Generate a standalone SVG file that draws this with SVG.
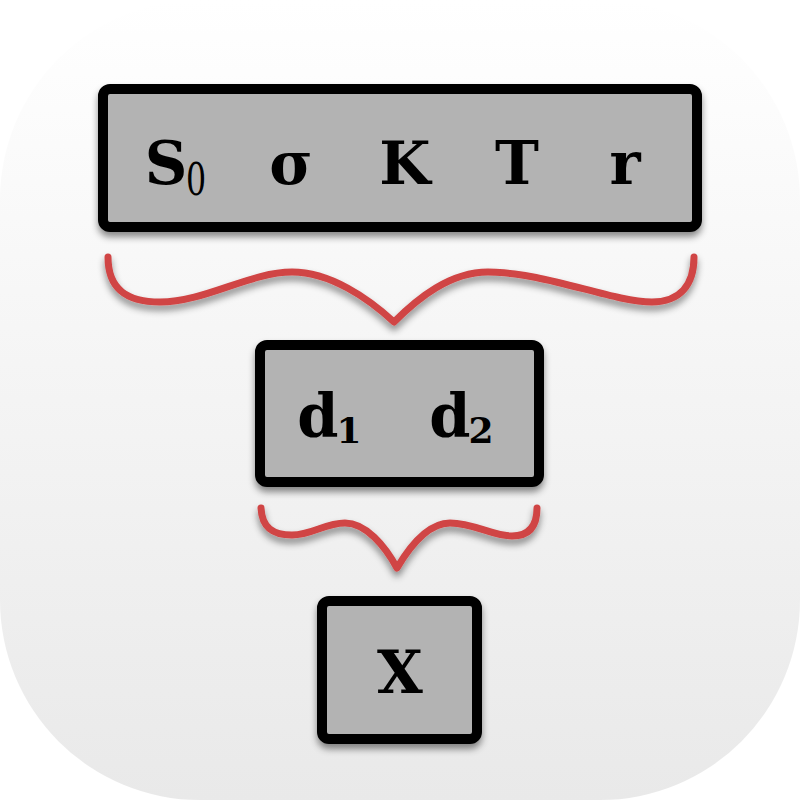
<svg xmlns="http://www.w3.org/2000/svg" width="800" height="800" viewBox="0 0 800 800">
<defs>
<linearGradient id="bg" x1="0" y1="0" x2="0" y2="1">
<stop offset="0" stop-color="#ffffff"/>
<stop offset="1" stop-color="#e9e9e9"/>
</linearGradient>
<filter id="sh" x="-20%" y="-20%" width="140%" height="150%">
<feDropShadow dx="0" dy="5" stdDeviation="3.5" flood-color="#000" flood-opacity="0.45"/>
</filter>
</defs>
<style>
.box{fill:#b3b3b3;stroke:#000;stroke-width:10;filter:url(#sh)}
.t{font-family:"DejaVu Serif","Liberation Serif",serif;font-weight:bold;font-size:59px;fill:#000;text-anchor:middle}
.sub{font-family:"DejaVu Serif","Liberation Serif",serif;font-weight:normal;font-size:44px;fill:#000;text-anchor:middle}
.dsub{font-family:"DejaVu Serif","Liberation Serif",serif;font-weight:bold;font-size:36px;fill:#000;text-anchor:middle}
.brace{fill:none;stroke:#d04545;stroke-width:7;stroke-linecap:round;stroke-linejoin:round;filter:url(#sh)}
</style>
<rect x="0" y="0" width="800" height="800" rx="200" ry="200" fill="url(#bg)"/>
<g id="connectors">
<path class="brace" d="M108,257 C108,290 128,302 160,302 C205,302 250,272 292,272 C330,272 368,298 394,322 C418,298 450,272 488,272 C545,272 612,302 652,302 C680,302 694,285 694,257"/>
<path class="brace" d="M261,508 C262,528 273,535 292,535 C312,535 325,523 345,523 C366,523 385,546 397,568 C410,546 428,523 450,523 C474,523 492,536 512,536 C530,536 537,525 537,508"/>
</g>
<g id="inputs">
<rect class="box" x="103" y="89" width="594" height="138" rx="7"/>
<text class="t" x="166" y="184">S</text>
<text class="sub" transform="translate(196,195) scale(0.72,1)">0</text>
<text class="t" x="291" y="184">σ</text>
<text class="t" x="405" y="184">K</text>
<text class="t" x="517" y="184">T</text>
<text class="t" x="625" y="184">r</text>
</g>
<g id="d">
<rect class="box" x="260" y="345" width="279" height="137" rx="7"/>
<text class="t" x="318" y="437">d</text>
<text class="dsub" x="349" y="443">1</text>
<text class="t" x="450" y="437">d</text>
<text class="dsub" x="481" y="443">2</text>
</g>
<g id="x">
<rect class="box" x="322" y="601" width="155" height="138" rx="7"/>
<text class="t" x="400" y="693">X</text>
</g>
</svg>
